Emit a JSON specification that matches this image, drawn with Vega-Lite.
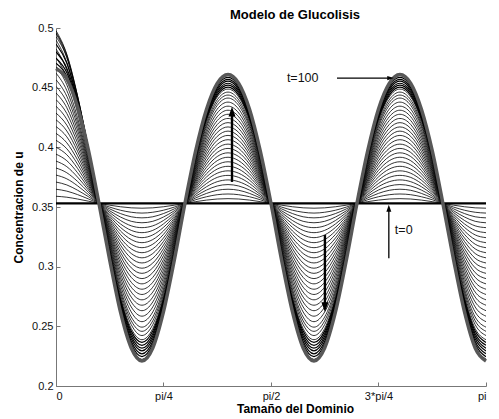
{
  "$schema": "https://vega.github.io/schema/vega-lite/v6.json",
  "autosize": "none",
  "width": 430,
  "height": 358,
  "padding": {"left": 56, "top": 28, "right": 13, "bottom": 33},
  "background": "white",
  "title": {"text": "Modelo de Glucolisis", "fontSize": 13, "fontWeight": "bold", "color": "#000", "dx": 24, "offset": 0},
  "config": {
    "font": "Liberation Sans",
    "view": {"stroke": null},
    "axis": {"grid": false, "labelFontSize": 11, "labelColor": "#111", "titleFontSize": 12, "titleFontWeight": "bold", "titleColor": "#000", "domainColor": "#777", "tickColor": "#777", "tickSize": -4}
  },
  "datasets": {
    "curvas": [
      {"k":0,"x":0,"u":0.353},{"k":0,"x":3.142,"u":0.353},
      {"k":1,"x":0,"u":0.359},{"k":1,"x":0.079,"u":0.3582},{"k":1,"x":0.157,"u":0.3567},{"k":1,"x":0.236,"u":0.3549},{"k":1,"x":0.314,"u":0.353},{"k":1,"x":0.393,"u":0.3515},{"k":1,"x":0.471,"u":0.3502},{"k":1,"x":0.55,"u":0.3493},{"k":1,"x":0.628,"u":0.349},{"k":1,"x":0.707,"u":0.3493},{"k":1,"x":0.785,"u":0.3502},{"k":1,"x":0.864,"u":0.3515},{"k":1,"x":0.942,"u":0.353},{"k":1,"x":1.021,"u":0.3545},{"k":1,"x":1.1,"u":0.3558},{"k":1,"x":1.178,"u":0.3567},{"k":1,"x":1.257,"u":0.357},{"k":1,"x":1.335,"u":0.3567},{"k":1,"x":1.414,"u":0.3558},{"k":1,"x":1.492,"u":0.3545},{"k":1,"x":1.571,"u":0.353},{"k":1,"x":1.649,"u":0.3515},{"k":1,"x":1.728,"u":0.3502},{"k":1,"x":1.806,"u":0.3493},{"k":1,"x":1.885,"u":0.349},{"k":1,"x":1.963,"u":0.3493},{"k":1,"x":2.042,"u":0.3502},{"k":1,"x":2.121,"u":0.3515},{"k":1,"x":2.199,"u":0.353},{"k":1,"x":2.278,"u":0.3545},{"k":1,"x":2.356,"u":0.3558},{"k":1,"x":2.435,"u":0.3567},{"k":1,"x":2.513,"u":0.357},{"k":1,"x":2.592,"u":0.3567},{"k":1,"x":2.67,"u":0.3558},{"k":1,"x":2.749,"u":0.3545},{"k":1,"x":2.827,"u":0.353},{"k":1,"x":2.906,"u":0.3515},{"k":1,"x":2.985,"u":0.3502},{"k":1,"x":3.063,"u":0.3493},{"k":1,"x":3.142,"u":0.349},
      {"k":2,"x":0,"u":0.3649},{"k":2,"x":0.079,"u":0.3633},{"k":2,"x":0.157,"u":0.3604},{"k":2,"x":0.236,"u":0.3568},{"k":2,"x":0.314,"u":0.353},{"k":2,"x":0.393,"u":0.3499},{"k":2,"x":0.471,"u":0.3473},{"k":2,"x":0.55,"u":0.3456},{"k":2,"x":0.628,"u":0.3449},{"k":2,"x":0.707,"u":0.3456},{"k":2,"x":0.785,"u":0.3473},{"k":2,"x":0.864,"u":0.3499},{"k":2,"x":0.942,"u":0.353},{"k":2,"x":1.021,"u":0.3561},{"k":2,"x":1.1,"u":0.3586},{"k":2,"x":1.178,"u":0.3603},{"k":2,"x":1.257,"u":0.3609},{"k":2,"x":1.335,"u":0.3603},{"k":2,"x":1.414,"u":0.3586},{"k":2,"x":1.492,"u":0.3561},{"k":2,"x":1.571,"u":0.353},{"k":2,"x":1.649,"u":0.3499},{"k":2,"x":1.728,"u":0.3473},{"k":2,"x":1.806,"u":0.3456},{"k":2,"x":1.885,"u":0.3449},{"k":2,"x":1.963,"u":0.3456},{"k":2,"x":2.042,"u":0.3473},{"k":2,"x":2.121,"u":0.3499},{"k":2,"x":2.199,"u":0.353},{"k":2,"x":2.278,"u":0.3561},{"k":2,"x":2.356,"u":0.3586},{"k":2,"x":2.435,"u":0.3603},{"k":2,"x":2.513,"u":0.3609},{"k":2,"x":2.592,"u":0.3603},{"k":2,"x":2.67,"u":0.3586},{"k":2,"x":2.749,"u":0.3561},{"k":2,"x":2.827,"u":0.353},{"k":2,"x":2.906,"u":0.3499},{"k":2,"x":2.985,"u":0.3473},{"k":2,"x":3.063,"u":0.3456},{"k":2,"x":3.142,"u":0.3449},
      {"k":3,"x":0,"u":0.3709},{"k":3,"x":0.079,"u":0.3685},{"k":3,"x":0.157,"u":0.3641},{"k":3,"x":0.236,"u":0.3587},{"k":3,"x":0.314,"u":0.353},{"k":3,"x":0.393,"u":0.3484},{"k":3,"x":0.471,"u":0.3445},{"k":3,"x":0.55,"u":0.3418},{"k":3,"x":0.628,"u":0.3409},{"k":3,"x":0.707,"u":0.3418},{"k":3,"x":0.785,"u":0.3445},{"k":3,"x":0.864,"u":0.3484},{"k":3,"x":0.942,"u":0.353},{"k":3,"x":1.021,"u":0.3576},{"k":3,"x":1.1,"u":0.3614},{"k":3,"x":1.178,"u":0.364},{"k":3,"x":1.257,"u":0.3649},{"k":3,"x":1.335,"u":0.364},{"k":3,"x":1.414,"u":0.3614},{"k":3,"x":1.492,"u":0.3576},{"k":3,"x":1.571,"u":0.353},{"k":3,"x":1.649,"u":0.3484},{"k":3,"x":1.728,"u":0.3445},{"k":3,"x":1.806,"u":0.3418},{"k":3,"x":1.885,"u":0.3409},{"k":3,"x":1.963,"u":0.3418},{"k":3,"x":2.042,"u":0.3445},{"k":3,"x":2.121,"u":0.3484},{"k":3,"x":2.199,"u":0.353},{"k":3,"x":2.278,"u":0.3576},{"k":3,"x":2.356,"u":0.3614},{"k":3,"x":2.435,"u":0.364},{"k":3,"x":2.513,"u":0.3649},{"k":3,"x":2.592,"u":0.364},{"k":3,"x":2.67,"u":0.3614},{"k":3,"x":2.749,"u":0.3576},{"k":3,"x":2.827,"u":0.353},{"k":3,"x":2.906,"u":0.3484},{"k":3,"x":2.985,"u":0.3445},{"k":3,"x":3.063,"u":0.3418},{"k":3,"x":3.142,"u":0.3409},
      {"k":4,"x":0,"u":0.3768},{"k":4,"x":0.079,"u":0.3736},{"k":4,"x":0.157,"u":0.3678},{"k":4,"x":0.236,"u":0.3605},{"k":4,"x":0.314,"u":0.353},{"k":4,"x":0.393,"u":0.3468},{"k":4,"x":0.471,"u":0.3416},{"k":4,"x":0.55,"u":0.338},{"k":4,"x":0.628,"u":0.3368},{"k":4,"x":0.707,"u":0.338},{"k":4,"x":0.785,"u":0.3416},{"k":4,"x":0.864,"u":0.3468},{"k":4,"x":0.942,"u":0.353},{"k":4,"x":1.021,"u":0.3591},{"k":4,"x":1.1,"u":0.3642},{"k":4,"x":1.178,"u":0.3676},{"k":4,"x":1.257,"u":0.3688},{"k":4,"x":1.335,"u":0.3676},{"k":4,"x":1.414,"u":0.3642},{"k":4,"x":1.492,"u":0.3591},{"k":4,"x":1.571,"u":0.353},{"k":4,"x":1.649,"u":0.3468},{"k":4,"x":1.728,"u":0.3416},{"k":4,"x":1.806,"u":0.338},{"k":4,"x":1.885,"u":0.3368},{"k":4,"x":1.963,"u":0.338},{"k":4,"x":2.042,"u":0.3416},{"k":4,"x":2.121,"u":0.3468},{"k":4,"x":2.199,"u":0.353},{"k":4,"x":2.278,"u":0.3591},{"k":4,"x":2.356,"u":0.3642},{"k":4,"x":2.435,"u":0.3676},{"k":4,"x":2.513,"u":0.3688},{"k":4,"x":2.592,"u":0.3676},{"k":4,"x":2.67,"u":0.3642},{"k":4,"x":2.749,"u":0.3591},{"k":4,"x":2.827,"u":0.353},{"k":4,"x":2.906,"u":0.3468},{"k":4,"x":2.985,"u":0.3416},{"k":4,"x":3.063,"u":0.338},{"k":4,"x":3.142,"u":0.3368},
      {"k":5,"x":0,"u":0.3827},{"k":5,"x":0.079,"u":0.3787},{"k":5,"x":0.157,"u":0.3715},{"k":5,"x":0.236,"u":0.3624},{"k":5,"x":0.314,"u":0.353},{"k":5,"x":0.393,"u":0.3453},{"k":5,"x":0.471,"u":0.3387},{"k":5,"x":0.55,"u":0.3342},{"k":5,"x":0.628,"u":0.3327},{"k":5,"x":0.707,"u":0.3342},{"k":5,"x":0.785,"u":0.3387},{"k":5,"x":0.864,"u":0.3453},{"k":5,"x":0.942,"u":0.353},{"k":5,"x":1.021,"u":0.3606},{"k":5,"x":1.1,"u":0.367},{"k":5,"x":1.178,"u":0.3712},{"k":5,"x":1.257,"u":0.3727},{"k":5,"x":1.335,"u":0.3712},{"k":5,"x":1.414,"u":0.367},{"k":5,"x":1.492,"u":0.3606},{"k":5,"x":1.571,"u":0.353},{"k":5,"x":1.649,"u":0.3453},{"k":5,"x":1.728,"u":0.3387},{"k":5,"x":1.806,"u":0.3342},{"k":5,"x":1.885,"u":0.3327},{"k":5,"x":1.963,"u":0.3342},{"k":5,"x":2.042,"u":0.3387},{"k":5,"x":2.121,"u":0.3453},{"k":5,"x":2.199,"u":0.353},{"k":5,"x":2.278,"u":0.3606},{"k":5,"x":2.356,"u":0.367},{"k":5,"x":2.435,"u":0.3712},{"k":5,"x":2.513,"u":0.3727},{"k":5,"x":2.592,"u":0.3712},{"k":5,"x":2.67,"u":0.367},{"k":5,"x":2.749,"u":0.3606},{"k":5,"x":2.827,"u":0.353},{"k":5,"x":2.906,"u":0.3453},{"k":5,"x":2.985,"u":0.3387},{"k":5,"x":3.063,"u":0.3342},{"k":5,"x":3.142,"u":0.3327},
      {"k":6,"x":0,"u":0.3885},{"k":6,"x":0.079,"u":0.3838},{"k":6,"x":0.157,"u":0.3751},{"k":6,"x":0.236,"u":0.3643},{"k":6,"x":0.314,"u":0.353},{"k":6,"x":0.393,"u":0.3437},{"k":6,"x":0.471,"u":0.3358},{"k":6,"x":0.55,"u":0.3304},{"k":6,"x":0.628,"u":0.3285},{"k":6,"x":0.707,"u":0.3304},{"k":6,"x":0.785,"u":0.3358},{"k":6,"x":0.864,"u":0.3437},{"k":6,"x":0.942,"u":0.353},{"k":6,"x":1.021,"u":0.3621},{"k":6,"x":1.1,"u":0.3697},{"k":6,"x":1.178,"u":0.3748},{"k":6,"x":1.257,"u":0.3765},{"k":6,"x":1.335,"u":0.3748},{"k":6,"x":1.414,"u":0.3697},{"k":6,"x":1.492,"u":0.3621},{"k":6,"x":1.571,"u":0.353},{"k":6,"x":1.649,"u":0.3437},{"k":6,"x":1.728,"u":0.3358},{"k":6,"x":1.806,"u":0.3304},{"k":6,"x":1.885,"u":0.3285},{"k":6,"x":1.963,"u":0.3304},{"k":6,"x":2.042,"u":0.3358},{"k":6,"x":2.121,"u":0.3437},{"k":6,"x":2.199,"u":0.353},{"k":6,"x":2.278,"u":0.3621},{"k":6,"x":2.356,"u":0.3697},{"k":6,"x":2.435,"u":0.3748},{"k":6,"x":2.513,"u":0.3765},{"k":6,"x":2.592,"u":0.3748},{"k":6,"x":2.67,"u":0.3697},{"k":6,"x":2.749,"u":0.3621},{"k":6,"x":2.827,"u":0.353},{"k":6,"x":2.906,"u":0.3437},{"k":6,"x":2.985,"u":0.3358},{"k":6,"x":3.063,"u":0.3304},{"k":6,"x":3.142,"u":0.3285},
      {"k":7,"x":0,"u":0.3943},{"k":7,"x":0.079,"u":0.3888},{"k":7,"x":0.157,"u":0.3788},{"k":7,"x":0.236,"u":0.3661},{"k":7,"x":0.314,"u":0.353},{"k":7,"x":0.393,"u":0.3422},{"k":7,"x":0.471,"u":0.3329},{"k":7,"x":0.55,"u":0.3266},{"k":7,"x":0.628,"u":0.3243},{"k":7,"x":0.707,"u":0.3266},{"k":7,"x":0.785,"u":0.3329},{"k":7,"x":0.864,"u":0.3422},{"k":7,"x":0.942,"u":0.353},{"k":7,"x":1.021,"u":0.3636},{"k":7,"x":1.1,"u":0.3725},{"k":7,"x":1.178,"u":0.3783},{"k":7,"x":1.257,"u":0.3803},{"k":7,"x":1.335,"u":0.3783},{"k":7,"x":1.414,"u":0.3725},{"k":7,"x":1.492,"u":0.3636},{"k":7,"x":1.571,"u":0.353},{"k":7,"x":1.649,"u":0.3422},{"k":7,"x":1.728,"u":0.3329},{"k":7,"x":1.806,"u":0.3266},{"k":7,"x":1.885,"u":0.3243},{"k":7,"x":1.963,"u":0.3266},{"k":7,"x":2.042,"u":0.3329},{"k":7,"x":2.121,"u":0.3422},{"k":7,"x":2.199,"u":0.353},{"k":7,"x":2.278,"u":0.3636},{"k":7,"x":2.356,"u":0.3725},{"k":7,"x":2.435,"u":0.3783},{"k":7,"x":2.513,"u":0.3803},{"k":7,"x":2.592,"u":0.3783},{"k":7,"x":2.67,"u":0.3725},{"k":7,"x":2.749,"u":0.3636},{"k":7,"x":2.827,"u":0.353},{"k":7,"x":2.906,"u":0.3422},{"k":7,"x":2.985,"u":0.3329},{"k":7,"x":3.063,"u":0.3266},{"k":7,"x":3.142,"u":0.3243},
      {"k":8,"x":0,"u":0.4001},{"k":8,"x":0.079,"u":0.3938},{"k":8,"x":0.157,"u":0.3824},{"k":8,"x":0.236,"u":0.368},{"k":8,"x":0.314,"u":0.353},{"k":8,"x":0.393,"u":0.3406},{"k":8,"x":0.471,"u":0.3299},{"k":8,"x":0.55,"u":0.3227},{"k":8,"x":0.628,"u":0.3201},{"k":8,"x":0.707,"u":0.3227},{"k":8,"x":0.785,"u":0.3299},{"k":8,"x":0.864,"u":0.3406},{"k":8,"x":0.942,"u":0.353},{"k":8,"x":1.021,"u":0.3651},{"k":8,"x":1.1,"u":0.3752},{"k":8,"x":1.178,"u":0.3818},{"k":8,"x":1.257,"u":0.3841},{"k":8,"x":1.335,"u":0.3818},{"k":8,"x":1.414,"u":0.3752},{"k":8,"x":1.492,"u":0.3651},{"k":8,"x":1.571,"u":0.353},{"k":8,"x":1.649,"u":0.3406},{"k":8,"x":1.728,"u":0.3299},{"k":8,"x":1.806,"u":0.3227},{"k":8,"x":1.885,"u":0.3201},{"k":8,"x":1.963,"u":0.3227},{"k":8,"x":2.042,"u":0.3299},{"k":8,"x":2.121,"u":0.3406},{"k":8,"x":2.199,"u":0.353},{"k":8,"x":2.278,"u":0.3651},{"k":8,"x":2.356,"u":0.3752},{"k":8,"x":2.435,"u":0.3818},{"k":8,"x":2.513,"u":0.3841},{"k":8,"x":2.592,"u":0.3818},{"k":8,"x":2.67,"u":0.3752},{"k":8,"x":2.749,"u":0.3651},{"k":8,"x":2.827,"u":0.353},{"k":8,"x":2.906,"u":0.3406},{"k":8,"x":2.985,"u":0.3299},{"k":8,"x":3.063,"u":0.3227},{"k":8,"x":3.142,"u":0.3201},
      {"k":9,"x":0,"u":0.4059},{"k":9,"x":0.079,"u":0.3988},{"k":9,"x":0.157,"u":0.386},{"k":9,"x":0.236,"u":0.3698},{"k":9,"x":0.314,"u":0.353},{"k":9,"x":0.393,"u":0.3391},{"k":9,"x":0.471,"u":0.327},{"k":9,"x":0.55,"u":0.3188},{"k":9,"x":0.628,"u":0.3159},{"k":9,"x":0.707,"u":0.3188},{"k":9,"x":0.785,"u":0.327},{"k":9,"x":0.864,"u":0.3391},{"k":9,"x":0.942,"u":0.353},{"k":9,"x":1.021,"u":0.3666},{"k":9,"x":1.1,"u":0.3779},{"k":9,"x":1.178,"u":0.3853},{"k":9,"x":1.257,"u":0.3879},{"k":9,"x":1.335,"u":0.3853},{"k":9,"x":1.414,"u":0.3779},{"k":9,"x":1.492,"u":0.3666},{"k":9,"x":1.571,"u":0.353},{"k":9,"x":1.649,"u":0.3391},{"k":9,"x":1.728,"u":0.327},{"k":9,"x":1.806,"u":0.3188},{"k":9,"x":1.885,"u":0.3159},{"k":9,"x":1.963,"u":0.3188},{"k":9,"x":2.042,"u":0.327},{"k":9,"x":2.121,"u":0.3391},{"k":9,"x":2.199,"u":0.353},{"k":9,"x":2.278,"u":0.3666},{"k":9,"x":2.356,"u":0.3779},{"k":9,"x":2.435,"u":0.3853},{"k":9,"x":2.513,"u":0.3879},{"k":9,"x":2.592,"u":0.3853},{"k":9,"x":2.67,"u":0.3779},{"k":9,"x":2.749,"u":0.3666},{"k":9,"x":2.827,"u":0.353},{"k":9,"x":2.906,"u":0.3391},{"k":9,"x":2.985,"u":0.327},{"k":9,"x":3.063,"u":0.3188},{"k":9,"x":3.142,"u":0.3159},
      {"k":10,"x":0,"u":0.4117},{"k":10,"x":0.079,"u":0.4038},{"k":10,"x":0.157,"u":0.3896},{"k":10,"x":0.236,"u":0.3717},{"k":10,"x":0.314,"u":0.353},{"k":10,"x":0.393,"u":0.3375},{"k":10,"x":0.471,"u":0.324},{"k":10,"x":0.55,"u":0.3149},{"k":10,"x":0.628,"u":0.3117},{"k":10,"x":0.707,"u":0.3149},{"k":10,"x":0.785,"u":0.324},{"k":10,"x":0.864,"u":0.3375},{"k":10,"x":0.942,"u":0.353},{"k":10,"x":1.021,"u":0.3681},{"k":10,"x":1.1,"u":0.3806},{"k":10,"x":1.178,"u":0.3888},{"k":10,"x":1.257,"u":0.3917},{"k":10,"x":1.335,"u":0.3888},{"k":10,"x":1.414,"u":0.3806},{"k":10,"x":1.492,"u":0.3681},{"k":10,"x":1.571,"u":0.353},{"k":10,"x":1.649,"u":0.3375},{"k":10,"x":1.728,"u":0.324},{"k":10,"x":1.806,"u":0.3149},{"k":10,"x":1.885,"u":0.3117},{"k":10,"x":1.963,"u":0.3149},{"k":10,"x":2.042,"u":0.324},{"k":10,"x":2.121,"u":0.3375},{"k":10,"x":2.199,"u":0.353},{"k":10,"x":2.278,"u":0.3681},{"k":10,"x":2.356,"u":0.3806},{"k":10,"x":2.435,"u":0.3888},{"k":10,"x":2.513,"u":0.3917},{"k":10,"x":2.592,"u":0.3888},{"k":10,"x":2.67,"u":0.3806},{"k":10,"x":2.749,"u":0.3681},{"k":10,"x":2.827,"u":0.353},{"k":10,"x":2.906,"u":0.3375},{"k":10,"x":2.985,"u":0.324},{"k":10,"x":3.063,"u":0.3149},{"k":10,"x":3.142,"u":0.3117},
      {"k":11,"x":0,"u":0.4174},{"k":11,"x":0.079,"u":0.4088},{"k":11,"x":0.157,"u":0.3932},{"k":11,"x":0.236,"u":0.3736},{"k":11,"x":0.314,"u":0.353},{"k":11,"x":0.393,"u":0.3359},{"k":11,"x":0.471,"u":0.3211},{"k":11,"x":0.55,"u":0.311},{"k":11,"x":0.628,"u":0.3074},{"k":11,"x":0.707,"u":0.311},{"k":11,"x":0.785,"u":0.3211},{"k":11,"x":0.864,"u":0.3359},{"k":11,"x":0.942,"u":0.353},{"k":11,"x":1.021,"u":0.3696},{"k":11,"x":1.1,"u":0.3833},{"k":11,"x":1.178,"u":0.3923},{"k":11,"x":1.257,"u":0.3954},{"k":11,"x":1.335,"u":0.3923},{"k":11,"x":1.414,"u":0.3833},{"k":11,"x":1.492,"u":0.3696},{"k":11,"x":1.571,"u":0.353},{"k":11,"x":1.649,"u":0.3359},{"k":11,"x":1.728,"u":0.3211},{"k":11,"x":1.806,"u":0.311},{"k":11,"x":1.885,"u":0.3074},{"k":11,"x":1.963,"u":0.311},{"k":11,"x":2.042,"u":0.3211},{"k":11,"x":2.121,"u":0.3359},{"k":11,"x":2.199,"u":0.353},{"k":11,"x":2.278,"u":0.3696},{"k":11,"x":2.356,"u":0.3833},{"k":11,"x":2.435,"u":0.3923},{"k":11,"x":2.513,"u":0.3954},{"k":11,"x":2.592,"u":0.3923},{"k":11,"x":2.67,"u":0.3833},{"k":11,"x":2.749,"u":0.3696},{"k":11,"x":2.827,"u":0.353},{"k":11,"x":2.906,"u":0.3359},{"k":11,"x":2.985,"u":0.3211},{"k":11,"x":3.063,"u":0.311},{"k":11,"x":3.142,"u":0.3074},
      {"k":12,"x":0,"u":0.4231},{"k":12,"x":0.079,"u":0.4137},{"k":12,"x":0.157,"u":0.3968},{"k":12,"x":0.236,"u":0.3754},{"k":12,"x":0.314,"u":0.353},{"k":12,"x":0.393,"u":0.3343},{"k":12,"x":0.471,"u":0.3181},{"k":12,"x":0.55,"u":0.307},{"k":12,"x":0.628,"u":0.3031},{"k":12,"x":0.707,"u":0.307},{"k":12,"x":0.785,"u":0.3181},{"k":12,"x":0.864,"u":0.3343},{"k":12,"x":0.942,"u":0.353},{"k":12,"x":1.021,"u":0.3711},{"k":12,"x":1.1,"u":0.386},{"k":12,"x":1.178,"u":0.3957},{"k":12,"x":1.257,"u":0.3991},{"k":12,"x":1.335,"u":0.3957},{"k":12,"x":1.414,"u":0.386},{"k":12,"x":1.492,"u":0.3711},{"k":12,"x":1.571,"u":0.353},{"k":12,"x":1.649,"u":0.3343},{"k":12,"x":1.728,"u":0.3181},{"k":12,"x":1.806,"u":0.307},{"k":12,"x":1.885,"u":0.3031},{"k":12,"x":1.963,"u":0.307},{"k":12,"x":2.042,"u":0.3181},{"k":12,"x":2.121,"u":0.3343},{"k":12,"x":2.199,"u":0.353},{"k":12,"x":2.278,"u":0.3711},{"k":12,"x":2.356,"u":0.386},{"k":12,"x":2.435,"u":0.3957},{"k":12,"x":2.513,"u":0.3991},{"k":12,"x":2.592,"u":0.3957},{"k":12,"x":2.67,"u":0.386},{"k":12,"x":2.749,"u":0.3711},{"k":12,"x":2.827,"u":0.353},{"k":12,"x":2.906,"u":0.3343},{"k":12,"x":2.985,"u":0.3181},{"k":12,"x":3.063,"u":0.307},{"k":12,"x":3.142,"u":0.3031},
      {"k":13,"x":0,"u":0.4287},{"k":13,"x":0.079,"u":0.4186},{"k":13,"x":0.157,"u":0.4003},{"k":13,"x":0.236,"u":0.3773},{"k":13,"x":0.314,"u":0.353},{"k":13,"x":0.393,"u":0.3328},{"k":13,"x":0.471,"u":0.3151},{"k":13,"x":0.55,"u":0.303},{"k":13,"x":0.628,"u":0.2987},{"k":13,"x":0.707,"u":0.303},{"k":13,"x":0.785,"u":0.3151},{"k":13,"x":0.864,"u":0.3328},{"k":13,"x":0.942,"u":0.353},{"k":13,"x":1.021,"u":0.3726},{"k":13,"x":1.1,"u":0.3886},{"k":13,"x":1.178,"u":0.3991},{"k":13,"x":1.257,"u":0.4027},{"k":13,"x":1.335,"u":0.3991},{"k":13,"x":1.414,"u":0.3886},{"k":13,"x":1.492,"u":0.3726},{"k":13,"x":1.571,"u":0.353},{"k":13,"x":1.649,"u":0.3328},{"k":13,"x":1.728,"u":0.3151},{"k":13,"x":1.806,"u":0.303},{"k":13,"x":1.885,"u":0.2987},{"k":13,"x":1.963,"u":0.303},{"k":13,"x":2.042,"u":0.3151},{"k":13,"x":2.121,"u":0.3328},{"k":13,"x":2.199,"u":0.353},{"k":13,"x":2.278,"u":0.3726},{"k":13,"x":2.356,"u":0.3886},{"k":13,"x":2.435,"u":0.3991},{"k":13,"x":2.513,"u":0.4027},{"k":13,"x":2.592,"u":0.3991},{"k":13,"x":2.67,"u":0.3886},{"k":13,"x":2.749,"u":0.3726},{"k":13,"x":2.827,"u":0.353},{"k":13,"x":2.906,"u":0.3328},{"k":13,"x":2.985,"u":0.3151},{"k":13,"x":3.063,"u":0.303},{"k":13,"x":3.142,"u":0.2987},
      {"k":14,"x":0,"u":0.4344},{"k":14,"x":0.079,"u":0.4235},{"k":14,"x":0.157,"u":0.4039},{"k":14,"x":0.236,"u":0.379},{"k":14,"x":0.314,"u":0.353},{"k":14,"x":0.393,"u":0.3312},{"k":14,"x":0.471,"u":0.3121},{"k":14,"x":0.55,"u":0.299},{"k":14,"x":0.628,"u":0.2944},{"k":14,"x":0.707,"u":0.299},{"k":14,"x":0.785,"u":0.3121},{"k":14,"x":0.864,"u":0.3312},{"k":14,"x":0.942,"u":0.353},{"k":14,"x":1.021,"u":0.374},{"k":14,"x":1.1,"u":0.3913},{"k":14,"x":1.178,"u":0.4025},{"k":14,"x":1.257,"u":0.4064},{"k":14,"x":1.335,"u":0.4025},{"k":14,"x":1.414,"u":0.3913},{"k":14,"x":1.492,"u":0.374},{"k":14,"x":1.571,"u":0.353},{"k":14,"x":1.649,"u":0.3312},{"k":14,"x":1.728,"u":0.3121},{"k":14,"x":1.806,"u":0.299},{"k":14,"x":1.885,"u":0.2944},{"k":14,"x":1.963,"u":0.299},{"k":14,"x":2.042,"u":0.3121},{"k":14,"x":2.121,"u":0.3312},{"k":14,"x":2.199,"u":0.353},{"k":14,"x":2.278,"u":0.374},{"k":14,"x":2.356,"u":0.3913},{"k":14,"x":2.435,"u":0.4025},{"k":14,"x":2.513,"u":0.4064},{"k":14,"x":2.592,"u":0.4025},{"k":14,"x":2.67,"u":0.3913},{"k":14,"x":2.749,"u":0.374},{"k":14,"x":2.827,"u":0.353},{"k":14,"x":2.906,"u":0.3312},{"k":14,"x":2.985,"u":0.3121},{"k":14,"x":3.063,"u":0.299},{"k":14,"x":3.142,"u":0.2944},
      {"k":15,"x":0,"u":0.44},{"k":15,"x":0.079,"u":0.4284},{"k":15,"x":0.157,"u":0.4074},{"k":15,"x":0.236,"u":0.3809},{"k":15,"x":0.314,"u":0.353},{"k":15,"x":0.393,"u":0.3296},{"k":15,"x":0.471,"u":0.3091},{"k":15,"x":0.55,"u":0.295},{"k":15,"x":0.628,"u":0.29},{"k":15,"x":0.707,"u":0.295},{"k":15,"x":0.785,"u":0.3091},{"k":15,"x":0.864,"u":0.3296},{"k":15,"x":0.942,"u":0.353},{"k":15,"x":1.021,"u":0.3755},{"k":15,"x":1.1,"u":0.3939},{"k":15,"x":1.178,"u":0.4059},{"k":15,"x":1.257,"u":0.41},{"k":15,"x":1.335,"u":0.4059},{"k":15,"x":1.414,"u":0.3939},{"k":15,"x":1.492,"u":0.3755},{"k":15,"x":1.571,"u":0.353},{"k":15,"x":1.649,"u":0.3296},{"k":15,"x":1.728,"u":0.3091},{"k":15,"x":1.806,"u":0.295},{"k":15,"x":1.885,"u":0.29},{"k":15,"x":1.963,"u":0.295},{"k":15,"x":2.042,"u":0.3091},{"k":15,"x":2.121,"u":0.3296},{"k":15,"x":2.199,"u":0.353},{"k":15,"x":2.278,"u":0.3755},{"k":15,"x":2.356,"u":0.3939},{"k":15,"x":2.435,"u":0.4059},{"k":15,"x":2.513,"u":0.41},{"k":15,"x":2.592,"u":0.4059},{"k":15,"x":2.67,"u":0.3939},{"k":15,"x":2.749,"u":0.3755},{"k":15,"x":2.827,"u":0.353},{"k":15,"x":2.906,"u":0.3296},{"k":15,"x":2.985,"u":0.3091},{"k":15,"x":3.063,"u":0.295},{"k":15,"x":3.142,"u":0.29},
      {"k":16,"x":0,"u":0.4456},{"k":16,"x":0.079,"u":0.4332},{"k":16,"x":0.157,"u":0.4109},{"k":16,"x":0.236,"u":0.3828},{"k":16,"x":0.314,"u":0.353},{"k":16,"x":0.393,"u":0.328},{"k":16,"x":0.471,"u":0.306},{"k":16,"x":0.55,"u":0.291},{"k":16,"x":0.628,"u":0.2856},{"k":16,"x":0.707,"u":0.291},{"k":16,"x":0.785,"u":0.306},{"k":16,"x":0.864,"u":0.328},{"k":16,"x":0.942,"u":0.353},{"k":16,"x":1.021,"u":0.377},{"k":16,"x":1.1,"u":0.3965},{"k":16,"x":1.178,"u":0.4092},{"k":16,"x":1.257,"u":0.4136},{"k":16,"x":1.335,"u":0.4092},{"k":16,"x":1.414,"u":0.3965},{"k":16,"x":1.492,"u":0.377},{"k":16,"x":1.571,"u":0.353},{"k":16,"x":1.649,"u":0.328},{"k":16,"x":1.728,"u":0.306},{"k":16,"x":1.806,"u":0.291},{"k":16,"x":1.885,"u":0.2856},{"k":16,"x":1.963,"u":0.291},{"k":16,"x":2.042,"u":0.306},{"k":16,"x":2.121,"u":0.328},{"k":16,"x":2.199,"u":0.353},{"k":16,"x":2.278,"u":0.377},{"k":16,"x":2.356,"u":0.3965},{"k":16,"x":2.435,"u":0.4092},{"k":16,"x":2.513,"u":0.4136},{"k":16,"x":2.592,"u":0.4092},{"k":16,"x":2.67,"u":0.3965},{"k":16,"x":2.749,"u":0.377},{"k":16,"x":2.827,"u":0.353},{"k":16,"x":2.906,"u":0.328},{"k":16,"x":2.985,"u":0.306},{"k":16,"x":3.063,"u":0.291},{"k":16,"x":3.142,"u":0.2856},
      {"k":17,"x":0,"u":0.4511},{"k":17,"x":0.079,"u":0.438},{"k":17,"x":0.157,"u":0.4145},{"k":17,"x":0.236,"u":0.3846},{"k":17,"x":0.314,"u":0.353},{"k":17,"x":0.393,"u":0.3264},{"k":17,"x":0.471,"u":0.303},{"k":17,"x":0.55,"u":0.2869},{"k":17,"x":0.628,"u":0.2811},{"k":17,"x":0.707,"u":0.2869},{"k":17,"x":0.785,"u":0.303},{"k":17,"x":0.864,"u":0.3264},{"k":17,"x":0.942,"u":0.353},{"k":17,"x":1.021,"u":0.3785},{"k":17,"x":1.1,"u":0.3992},{"k":17,"x":1.178,"u":0.4125},{"k":17,"x":1.257,"u":0.4171},{"k":17,"x":1.335,"u":0.4125},{"k":17,"x":1.414,"u":0.3992},{"k":17,"x":1.492,"u":0.3785},{"k":17,"x":1.571,"u":0.353},{"k":17,"x":1.649,"u":0.3264},{"k":17,"x":1.728,"u":0.303},{"k":17,"x":1.806,"u":0.2869},{"k":17,"x":1.885,"u":0.2811},{"k":17,"x":1.963,"u":0.2869},{"k":17,"x":2.042,"u":0.303},{"k":17,"x":2.121,"u":0.3264},{"k":17,"x":2.199,"u":0.353},{"k":17,"x":2.278,"u":0.3785},{"k":17,"x":2.356,"u":0.3992},{"k":17,"x":2.435,"u":0.4125},{"k":17,"x":2.513,"u":0.4171},{"k":17,"x":2.592,"u":0.4125},{"k":17,"x":2.67,"u":0.3992},{"k":17,"x":2.749,"u":0.3785},{"k":17,"x":2.827,"u":0.353},{"k":17,"x":2.906,"u":0.3264},{"k":17,"x":2.985,"u":0.303},{"k":17,"x":3.063,"u":0.2869},{"k":17,"x":3.142,"u":0.2811},
      {"k":18,"x":0,"u":0.4567},{"k":18,"x":0.079,"u":0.4428},{"k":18,"x":0.157,"u":0.418},{"k":18,"x":0.236,"u":0.3864},{"k":18,"x":0.314,"u":0.353},{"k":18,"x":0.393,"u":0.3248},{"k":18,"x":0.471,"u":0.2999},{"k":18,"x":0.55,"u":0.2828},{"k":18,"x":0.628,"u":0.2767},{"k":18,"x":0.707,"u":0.2828},{"k":18,"x":0.785,"u":0.2999},{"k":18,"x":0.864,"u":0.3248},{"k":18,"x":0.942,"u":0.353},{"k":18,"x":1.021,"u":0.3799},{"k":18,"x":1.1,"u":0.4018},{"k":18,"x":1.178,"u":0.4158},{"k":18,"x":1.257,"u":0.4207},{"k":18,"x":1.335,"u":0.4158},{"k":18,"x":1.414,"u":0.4018},{"k":18,"x":1.492,"u":0.3799},{"k":18,"x":1.571,"u":0.353},{"k":18,"x":1.649,"u":0.3248},{"k":18,"x":1.728,"u":0.2999},{"k":18,"x":1.806,"u":0.2828},{"k":18,"x":1.885,"u":0.2767},{"k":18,"x":1.963,"u":0.2828},{"k":18,"x":2.042,"u":0.2999},{"k":18,"x":2.121,"u":0.3248},{"k":18,"x":2.199,"u":0.353},{"k":18,"x":2.278,"u":0.3799},{"k":18,"x":2.356,"u":0.4018},{"k":18,"x":2.435,"u":0.4158},{"k":18,"x":2.513,"u":0.4207},{"k":18,"x":2.592,"u":0.4158},{"k":18,"x":2.67,"u":0.4018},{"k":18,"x":2.749,"u":0.3799},{"k":18,"x":2.827,"u":0.353},{"k":18,"x":2.906,"u":0.3248},{"k":18,"x":2.985,"u":0.2999},{"k":18,"x":3.063,"u":0.2828},{"k":18,"x":3.142,"u":0.2767},
      {"k":19,"x":0,"u":0.4622},{"k":19,"x":0.079,"u":0.4476},{"k":19,"x":0.157,"u":0.4214},{"k":19,"x":0.236,"u":0.3882},{"k":19,"x":0.314,"u":0.353},{"k":19,"x":0.393,"u":0.3232},{"k":19,"x":0.471,"u":0.2969},{"k":19,"x":0.55,"u":0.2787},{"k":19,"x":0.628,"u":0.2722},{"k":19,"x":0.707,"u":0.2787},{"k":19,"x":0.785,"u":0.2969},{"k":19,"x":0.864,"u":0.3232},{"k":19,"x":0.942,"u":0.353},{"k":19,"x":1.021,"u":0.3814},{"k":19,"x":1.1,"u":0.4043},{"k":19,"x":1.178,"u":0.4191},{"k":19,"x":1.257,"u":0.4242},{"k":19,"x":1.335,"u":0.4191},{"k":19,"x":1.414,"u":0.4043},{"k":19,"x":1.492,"u":0.3814},{"k":19,"x":1.571,"u":0.353},{"k":19,"x":1.649,"u":0.3232},{"k":19,"x":1.728,"u":0.2969},{"k":19,"x":1.806,"u":0.2787},{"k":19,"x":1.885,"u":0.2722},{"k":19,"x":1.963,"u":0.2787},{"k":19,"x":2.042,"u":0.2969},{"k":19,"x":2.121,"u":0.3232},{"k":19,"x":2.199,"u":0.353},{"k":19,"x":2.278,"u":0.3814},{"k":19,"x":2.356,"u":0.4043},{"k":19,"x":2.435,"u":0.4191},{"k":19,"x":2.513,"u":0.4242},{"k":19,"x":2.592,"u":0.4191},{"k":19,"x":2.67,"u":0.4043},{"k":19,"x":2.749,"u":0.3814},{"k":19,"x":2.827,"u":0.353},{"k":19,"x":2.906,"u":0.3232},{"k":19,"x":2.985,"u":0.2969},{"k":19,"x":3.063,"u":0.2787},{"k":19,"x":3.142,"u":0.2722},
      {"k":20,"x":0,"u":0.4677},{"k":20,"x":0.079,"u":0.4524},{"k":20,"x":0.157,"u":0.4249},{"k":20,"x":0.236,"u":0.39},{"k":20,"x":0.314,"u":0.353},{"k":20,"x":0.393,"u":0.3216},{"k":20,"x":0.471,"u":0.2938},{"k":20,"x":0.55,"u":0.2745},{"k":20,"x":0.628,"u":0.2677},{"k":20,"x":0.707,"u":0.2745},{"k":20,"x":0.785,"u":0.2938},{"k":20,"x":0.864,"u":0.3216},{"k":20,"x":0.942,"u":0.353},{"k":20,"x":1.021,"u":0.3828},{"k":20,"x":1.1,"u":0.4069},{"k":20,"x":1.178,"u":0.4224},{"k":20,"x":1.257,"u":0.4277},{"k":20,"x":1.335,"u":0.4224},{"k":20,"x":1.414,"u":0.4069},{"k":20,"x":1.492,"u":0.3828},{"k":20,"x":1.571,"u":0.353},{"k":20,"x":1.649,"u":0.3216},{"k":20,"x":1.728,"u":0.2938},{"k":20,"x":1.806,"u":0.2745},{"k":20,"x":1.885,"u":0.2677},{"k":20,"x":1.963,"u":0.2745},{"k":20,"x":2.042,"u":0.2938},{"k":20,"x":2.121,"u":0.3216},{"k":20,"x":2.199,"u":0.353},{"k":20,"x":2.278,"u":0.3828},{"k":20,"x":2.356,"u":0.4069},{"k":20,"x":2.435,"u":0.4224},{"k":20,"x":2.513,"u":0.4277},{"k":20,"x":2.592,"u":0.4224},{"k":20,"x":2.67,"u":0.4069},{"k":20,"x":2.749,"u":0.3828},{"k":20,"x":2.827,"u":0.353},{"k":20,"x":2.906,"u":0.3216},{"k":20,"x":2.985,"u":0.2938},{"k":20,"x":3.063,"u":0.2745},{"k":20,"x":3.142,"u":0.2677},
      {"k":21,"x":0,"u":0.4751},{"k":21,"x":0.079,"u":0.4586},{"k":21,"x":0.157,"u":0.4293},{"k":21,"x":0.236,"u":0.3922},{"k":21,"x":0.314,"u":0.353},{"k":21,"x":0.393,"u":0.32},{"k":21,"x":0.471,"u":0.2907},{"k":21,"x":0.55,"u":0.2704},{"k":21,"x":0.628,"u":0.2631},{"k":21,"x":0.707,"u":0.2704},{"k":21,"x":0.785,"u":0.2907},{"k":21,"x":0.864,"u":0.32},{"k":21,"x":0.942,"u":0.353},{"k":21,"x":1.021,"u":0.3843},{"k":21,"x":1.1,"u":0.4095},{"k":21,"x":1.178,"u":0.4256},{"k":21,"x":1.257,"u":0.4311},{"k":21,"x":1.335,"u":0.4256},{"k":21,"x":1.414,"u":0.4095},{"k":21,"x":1.492,"u":0.3843},{"k":21,"x":1.571,"u":0.353},{"k":21,"x":1.649,"u":0.32},{"k":21,"x":1.728,"u":0.2907},{"k":21,"x":1.806,"u":0.2704},{"k":21,"x":1.885,"u":0.2631},{"k":21,"x":1.963,"u":0.2704},{"k":21,"x":2.042,"u":0.2907},{"k":21,"x":2.121,"u":0.32},{"k":21,"x":2.199,"u":0.353},{"k":21,"x":2.278,"u":0.3843},{"k":21,"x":2.356,"u":0.4095},{"k":21,"x":2.435,"u":0.4256},{"k":21,"x":2.513,"u":0.4311},{"k":21,"x":2.592,"u":0.4256},{"k":21,"x":2.67,"u":0.4095},{"k":21,"x":2.749,"u":0.3843},{"k":21,"x":2.827,"u":0.353},{"k":21,"x":2.906,"u":0.32},{"k":21,"x":2.985,"u":0.2907},{"k":21,"x":3.063,"u":0.2704},{"k":21,"x":3.142,"u":0.2631},
      {"k":22,"x":0,"u":0.4825},{"k":22,"x":0.079,"u":0.4648},{"k":22,"x":0.157,"u":0.4336},{"k":22,"x":0.236,"u":0.3943},{"k":22,"x":0.314,"u":0.353},{"k":22,"x":0.393,"u":0.3184},{"k":22,"x":0.471,"u":0.2875},{"k":22,"x":0.55,"u":0.2662},{"k":22,"x":0.628,"u":0.2585},{"k":22,"x":0.707,"u":0.2662},{"k":22,"x":0.785,"u":0.2875},{"k":22,"x":0.864,"u":0.3184},{"k":22,"x":0.942,"u":0.353},{"k":22,"x":1.021,"u":0.3857},{"k":22,"x":1.1,"u":0.412},{"k":22,"x":1.178,"u":0.4288},{"k":22,"x":1.257,"u":0.4345},{"k":22,"x":1.335,"u":0.4288},{"k":22,"x":1.414,"u":0.412},{"k":22,"x":1.492,"u":0.3857},{"k":22,"x":1.571,"u":0.353},{"k":22,"x":1.649,"u":0.3184},{"k":22,"x":1.728,"u":0.2875},{"k":22,"x":1.806,"u":0.2662},{"k":22,"x":1.885,"u":0.2585},{"k":22,"x":1.963,"u":0.2662},{"k":22,"x":2.042,"u":0.2875},{"k":22,"x":2.121,"u":0.3184},{"k":22,"x":2.199,"u":0.353},{"k":22,"x":2.278,"u":0.3857},{"k":22,"x":2.356,"u":0.412},{"k":22,"x":2.435,"u":0.4288},{"k":22,"x":2.513,"u":0.4345},{"k":22,"x":2.592,"u":0.4288},{"k":22,"x":2.67,"u":0.412},{"k":22,"x":2.749,"u":0.3857},{"k":22,"x":2.827,"u":0.353},{"k":22,"x":2.906,"u":0.3184},{"k":22,"x":2.985,"u":0.2875},{"k":22,"x":3.063,"u":0.2662},{"k":22,"x":3.142,"u":0.2585},
      {"k":23,"x":0,"u":0.4899},{"k":23,"x":0.079,"u":0.471},{"k":23,"x":0.157,"u":0.4379},{"k":23,"x":0.236,"u":0.3966},{"k":23,"x":0.314,"u":0.353},{"k":23,"x":0.393,"u":0.3168},{"k":23,"x":0.471,"u":0.2844},{"k":23,"x":0.55,"u":0.262},{"k":23,"x":0.628,"u":0.2539},{"k":23,"x":0.707,"u":0.262},{"k":23,"x":0.785,"u":0.2844},{"k":23,"x":0.864,"u":0.3168},{"k":23,"x":0.942,"u":0.353},{"k":23,"x":1.021,"u":0.3872},{"k":23,"x":1.1,"u":0.4145},{"k":23,"x":1.178,"u":0.432},{"k":23,"x":1.257,"u":0.4379},{"k":23,"x":1.335,"u":0.432},{"k":23,"x":1.414,"u":0.4145},{"k":23,"x":1.492,"u":0.3872},{"k":23,"x":1.571,"u":0.353},{"k":23,"x":1.649,"u":0.3168},{"k":23,"x":1.728,"u":0.2844},{"k":23,"x":1.806,"u":0.262},{"k":23,"x":1.885,"u":0.2539},{"k":23,"x":1.963,"u":0.262},{"k":23,"x":2.042,"u":0.2844},{"k":23,"x":2.121,"u":0.3168},{"k":23,"x":2.199,"u":0.353},{"k":23,"x":2.278,"u":0.3872},{"k":23,"x":2.356,"u":0.4145},{"k":23,"x":2.435,"u":0.432},{"k":23,"x":2.513,"u":0.4379},{"k":23,"x":2.592,"u":0.432},{"k":23,"x":2.67,"u":0.4145},{"k":23,"x":2.749,"u":0.3872},{"k":23,"x":2.827,"u":0.353},{"k":23,"x":2.906,"u":0.3168},{"k":23,"x":2.985,"u":0.2844},{"k":23,"x":3.063,"u":0.262},{"k":23,"x":3.142,"u":0.2539},
      {"k":24,"x":0,"u":0.4953},{"k":24,"x":0.079,"u":0.4756},{"k":24,"x":0.157,"u":0.4413},{"k":24,"x":0.236,"u":0.3983},{"k":24,"x":0.314,"u":0.353},{"k":24,"x":0.393,"u":0.3151},{"k":24,"x":0.471,"u":0.2813},{"k":24,"x":0.55,"u":0.2578},{"k":24,"x":0.628,"u":0.2493},{"k":24,"x":0.707,"u":0.2578},{"k":24,"x":0.785,"u":0.2813},{"k":24,"x":0.864,"u":0.3151},{"k":24,"x":0.942,"u":0.353},{"k":24,"x":1.021,"u":0.3886},{"k":24,"x":1.1,"u":0.417},{"k":24,"x":1.178,"u":0.4351},{"k":24,"x":1.257,"u":0.4413},{"k":24,"x":1.335,"u":0.4351},{"k":24,"x":1.414,"u":0.417},{"k":24,"x":1.492,"u":0.3886},{"k":24,"x":1.571,"u":0.353},{"k":24,"x":1.649,"u":0.3151},{"k":24,"x":1.728,"u":0.2813},{"k":24,"x":1.806,"u":0.2578},{"k":24,"x":1.885,"u":0.2493},{"k":24,"x":1.963,"u":0.2578},{"k":24,"x":2.042,"u":0.2813},{"k":24,"x":2.121,"u":0.3151},{"k":24,"x":2.199,"u":0.353},{"k":24,"x":2.278,"u":0.3886},{"k":24,"x":2.356,"u":0.417},{"k":24,"x":2.435,"u":0.4351},{"k":24,"x":2.513,"u":0.4413},{"k":24,"x":2.592,"u":0.4351},{"k":24,"x":2.67,"u":0.417},{"k":24,"x":2.749,"u":0.3886},{"k":24,"x":2.827,"u":0.353},{"k":24,"x":2.906,"u":0.3151},{"k":24,"x":2.985,"u":0.2813},{"k":24,"x":3.063,"u":0.2578},{"k":24,"x":3.142,"u":0.2493},
      {"k":25,"x":0,"u":0.4978},{"k":25,"x":0.079,"u":0.478},{"k":25,"x":0.157,"u":0.4432},{"k":25,"x":0.236,"u":0.3994},{"k":25,"x":0.314,"u":0.353},{"k":25,"x":0.393,"u":0.3139},{"k":25,"x":0.471,"u":0.2789},{"k":25,"x":0.55,"u":0.2546},{"k":25,"x":0.628,"u":0.2458},{"k":25,"x":0.707,"u":0.2546},{"k":25,"x":0.785,"u":0.2789},{"k":25,"x":0.864,"u":0.3139},{"k":25,"x":0.942,"u":0.353},{"k":25,"x":1.021,"u":0.3897},{"k":25,"x":1.1,"u":0.4189},{"k":25,"x":1.178,"u":0.4375},{"k":25,"x":1.257,"u":0.4438},{"k":25,"x":1.335,"u":0.4375},{"k":25,"x":1.414,"u":0.4189},{"k":25,"x":1.492,"u":0.3897},{"k":25,"x":1.571,"u":0.353},{"k":25,"x":1.649,"u":0.3139},{"k":25,"x":1.728,"u":0.2789},{"k":25,"x":1.806,"u":0.2546},{"k":25,"x":1.885,"u":0.2458},{"k":25,"x":1.963,"u":0.2546},{"k":25,"x":2.042,"u":0.2789},{"k":25,"x":2.121,"u":0.3139},{"k":25,"x":2.199,"u":0.353},{"k":25,"x":2.278,"u":0.3897},{"k":25,"x":2.356,"u":0.4189},{"k":25,"x":2.435,"u":0.4375},{"k":25,"x":2.513,"u":0.4438},{"k":25,"x":2.592,"u":0.4375},{"k":25,"x":2.67,"u":0.4189},{"k":25,"x":2.749,"u":0.3897},{"k":25,"x":2.827,"u":0.353},{"k":25,"x":2.906,"u":0.3139},{"k":25,"x":2.985,"u":0.2789},{"k":25,"x":3.063,"u":0.2546},{"k":25,"x":3.142,"u":0.2458},
      {"k":26,"x":0,"u":0.4963},{"k":26,"x":0.079,"u":0.4773},{"k":26,"x":0.157,"u":0.4433},{"k":26,"x":0.236,"u":0.3998},{"k":26,"x":0.314,"u":0.353},{"k":26,"x":0.393,"u":0.3127},{"k":26,"x":0.471,"u":0.2765},{"k":26,"x":0.55,"u":0.2514},{"k":26,"x":0.628,"u":0.2423},{"k":26,"x":0.707,"u":0.2514},{"k":26,"x":0.785,"u":0.2765},{"k":26,"x":0.864,"u":0.3127},{"k":26,"x":0.942,"u":0.353},{"k":26,"x":1.021,"u":0.3908},{"k":26,"x":1.1,"u":0.4208},{"k":26,"x":1.178,"u":0.4398},{"k":26,"x":1.257,"u":0.4463},{"k":26,"x":1.335,"u":0.4398},{"k":26,"x":1.414,"u":0.4208},{"k":26,"x":1.492,"u":0.3908},{"k":26,"x":1.571,"u":0.353},{"k":26,"x":1.649,"u":0.3127},{"k":26,"x":1.728,"u":0.2765},{"k":26,"x":1.806,"u":0.2514},{"k":26,"x":1.885,"u":0.2423},{"k":26,"x":1.963,"u":0.2514},{"k":26,"x":2.042,"u":0.2765},{"k":26,"x":2.121,"u":0.3127},{"k":26,"x":2.199,"u":0.353},{"k":26,"x":2.278,"u":0.3908},{"k":26,"x":2.356,"u":0.4208},{"k":26,"x":2.435,"u":0.4398},{"k":26,"x":2.513,"u":0.4463},{"k":26,"x":2.592,"u":0.4398},{"k":26,"x":2.67,"u":0.4208},{"k":26,"x":2.749,"u":0.3908},{"k":26,"x":2.827,"u":0.353},{"k":26,"x":2.906,"u":0.3127},{"k":26,"x":2.985,"u":0.2765},{"k":26,"x":3.063,"u":0.2514},{"k":26,"x":3.142,"u":0.2423},
      {"k":27,"x":0,"u":0.4928},{"k":27,"x":0.079,"u":0.4752},{"k":27,"x":0.157,"u":0.4425},{"k":27,"x":0.236,"u":0.3997},{"k":27,"x":0.314,"u":0.353},{"k":27,"x":0.393,"u":0.3115},{"k":27,"x":0.471,"u":0.2742},{"k":27,"x":0.55,"u":0.2481},{"k":27,"x":0.628,"u":0.2388},{"k":27,"x":0.707,"u":0.2481},{"k":27,"x":0.785,"u":0.2742},{"k":27,"x":0.864,"u":0.3115},{"k":27,"x":0.942,"u":0.353},{"k":27,"x":1.021,"u":0.3918},{"k":27,"x":1.1,"u":0.4227},{"k":27,"x":1.178,"u":0.4422},{"k":27,"x":1.257,"u":0.4488},{"k":27,"x":1.335,"u":0.4422},{"k":27,"x":1.414,"u":0.4227},{"k":27,"x":1.492,"u":0.3918},{"k":27,"x":1.571,"u":0.353},{"k":27,"x":1.649,"u":0.3115},{"k":27,"x":1.728,"u":0.2742},{"k":27,"x":1.806,"u":0.2481},{"k":27,"x":1.885,"u":0.2388},{"k":27,"x":1.963,"u":0.2481},{"k":27,"x":2.042,"u":0.2742},{"k":27,"x":2.121,"u":0.3115},{"k":27,"x":2.199,"u":0.353},{"k":27,"x":2.278,"u":0.3918},{"k":27,"x":2.356,"u":0.4227},{"k":27,"x":2.435,"u":0.4422},{"k":27,"x":2.513,"u":0.4488},{"k":27,"x":2.592,"u":0.4422},{"k":27,"x":2.67,"u":0.4227},{"k":27,"x":2.749,"u":0.3918},{"k":27,"x":2.827,"u":0.353},{"k":27,"x":2.906,"u":0.3115},{"k":27,"x":2.985,"u":0.2742},{"k":27,"x":3.063,"u":0.2481},{"k":27,"x":3.142,"u":0.2388},
      {"k":28,"x":0,"u":0.4865},{"k":28,"x":0.079,"u":0.4707},{"k":28,"x":0.157,"u":0.4401},{"k":28,"x":0.236,"u":0.3991},{"k":28,"x":0.314,"u":0.353},{"k":28,"x":0.393,"u":0.3107},{"k":28,"x":0.471,"u":0.2726},{"k":28,"x":0.55,"u":0.246},{"k":28,"x":0.628,"u":0.2365},{"k":28,"x":0.707,"u":0.246},{"k":28,"x":0.785,"u":0.2726},{"k":28,"x":0.864,"u":0.3107},{"k":28,"x":0.942,"u":0.353},{"k":28,"x":1.021,"u":0.3926},{"k":28,"x":1.1,"u":0.4239},{"k":28,"x":1.178,"u":0.4437},{"k":28,"x":1.257,"u":0.4505},{"k":28,"x":1.335,"u":0.4437},{"k":28,"x":1.414,"u":0.4239},{"k":28,"x":1.492,"u":0.3926},{"k":28,"x":1.571,"u":0.353},{"k":28,"x":1.649,"u":0.3107},{"k":28,"x":1.728,"u":0.2726},{"k":28,"x":1.806,"u":0.246},{"k":28,"x":1.885,"u":0.2365},{"k":28,"x":1.963,"u":0.246},{"k":28,"x":2.042,"u":0.2726},{"k":28,"x":2.121,"u":0.3107},{"k":28,"x":2.199,"u":0.353},{"k":28,"x":2.278,"u":0.3926},{"k":28,"x":2.356,"u":0.4239},{"k":28,"x":2.435,"u":0.4437},{"k":28,"x":2.513,"u":0.4505},{"k":28,"x":2.592,"u":0.4437},{"k":28,"x":2.67,"u":0.4239},{"k":28,"x":2.749,"u":0.3926},{"k":28,"x":2.827,"u":0.353},{"k":28,"x":2.906,"u":0.3107},{"k":28,"x":2.985,"u":0.2726},{"k":28,"x":3.063,"u":0.246},{"k":28,"x":3.142,"u":0.2365},
      {"k":29,"x":0,"u":0.4801},{"k":29,"x":0.079,"u":0.4663},{"k":29,"x":0.157,"u":0.4377},{"k":29,"x":0.236,"u":0.3983},{"k":29,"x":0.314,"u":0.353},{"k":29,"x":0.393,"u":0.3098},{"k":29,"x":0.471,"u":0.271},{"k":29,"x":0.55,"u":0.2438},{"k":29,"x":0.628,"u":0.2341},{"k":29,"x":0.707,"u":0.2438},{"k":29,"x":0.785,"u":0.271},{"k":29,"x":0.864,"u":0.3098},{"k":29,"x":0.942,"u":0.353},{"k":29,"x":1.021,"u":0.3933},{"k":29,"x":1.1,"u":0.4251},{"k":29,"x":1.178,"u":0.4453},{"k":29,"x":1.257,"u":0.4521},{"k":29,"x":1.335,"u":0.4453},{"k":29,"x":1.414,"u":0.4251},{"k":29,"x":1.492,"u":0.3933},{"k":29,"x":1.571,"u":0.353},{"k":29,"x":1.649,"u":0.3098},{"k":29,"x":1.728,"u":0.271},{"k":29,"x":1.806,"u":0.2438},{"k":29,"x":1.885,"u":0.2341},{"k":29,"x":1.963,"u":0.2438},{"k":29,"x":2.042,"u":0.271},{"k":29,"x":2.121,"u":0.3098},{"k":29,"x":2.199,"u":0.353},{"k":29,"x":2.278,"u":0.3933},{"k":29,"x":2.356,"u":0.4251},{"k":29,"x":2.435,"u":0.4453},{"k":29,"x":2.513,"u":0.4521},{"k":29,"x":2.592,"u":0.4453},{"k":29,"x":2.67,"u":0.4251},{"k":29,"x":2.749,"u":0.3933},{"k":29,"x":2.827,"u":0.353},{"k":29,"x":2.906,"u":0.3098},{"k":29,"x":2.985,"u":0.271},{"k":29,"x":3.063,"u":0.2438},{"k":29,"x":3.142,"u":0.2341},
      {"k":30,"x":0,"u":0.4747},{"k":30,"x":0.079,"u":0.4626},{"k":30,"x":0.157,"u":0.4359},{"k":30,"x":0.236,"u":0.3978},{"k":30,"x":0.314,"u":0.353},{"k":30,"x":0.393,"u":0.309},{"k":30,"x":0.471,"u":0.2694},{"k":30,"x":0.55,"u":0.2417},{"k":30,"x":0.628,"u":0.2317},{"k":30,"x":0.707,"u":0.2417},{"k":30,"x":0.785,"u":0.2694},{"k":30,"x":0.864,"u":0.309},{"k":30,"x":0.942,"u":0.353},{"k":30,"x":1.021,"u":0.394},{"k":30,"x":1.1,"u":0.4264},{"k":30,"x":1.178,"u":0.4468},{"k":30,"x":1.257,"u":0.4537},{"k":30,"x":1.335,"u":0.4468},{"k":30,"x":1.414,"u":0.4264},{"k":30,"x":1.492,"u":0.394},{"k":30,"x":1.571,"u":0.353},{"k":30,"x":1.649,"u":0.309},{"k":30,"x":1.728,"u":0.2694},{"k":30,"x":1.806,"u":0.2417},{"k":30,"x":1.885,"u":0.2317},{"k":30,"x":1.963,"u":0.2417},{"k":30,"x":2.042,"u":0.2694},{"k":30,"x":2.121,"u":0.309},{"k":30,"x":2.199,"u":0.353},{"k":30,"x":2.278,"u":0.394},{"k":30,"x":2.356,"u":0.4264},{"k":30,"x":2.435,"u":0.4468},{"k":30,"x":2.513,"u":0.4537},{"k":30,"x":2.592,"u":0.4468},{"k":30,"x":2.67,"u":0.4264},{"k":30,"x":2.749,"u":0.394},{"k":30,"x":2.827,"u":0.353},{"k":30,"x":2.906,"u":0.309},{"k":30,"x":2.985,"u":0.2694},{"k":30,"x":3.063,"u":0.2417},{"k":30,"x":3.142,"u":0.2317},
      {"k":31,"x":0,"u":0.4704},{"k":31,"x":0.079,"u":0.4596},{"k":31,"x":0.157,"u":0.4344},{"k":31,"x":0.236,"u":0.3974},{"k":31,"x":0.314,"u":0.353},{"k":31,"x":0.393,"u":0.3082},{"k":31,"x":0.471,"u":0.2678},{"k":31,"x":0.55,"u":0.2395},{"k":31,"x":0.628,"u":0.2294},{"k":31,"x":0.707,"u":0.2395},{"k":31,"x":0.785,"u":0.2678},{"k":31,"x":0.864,"u":0.3082},{"k":31,"x":0.942,"u":0.353},{"k":31,"x":1.021,"u":0.3947},{"k":31,"x":1.1,"u":0.4276},{"k":31,"x":1.178,"u":0.4483},{"k":31,"x":1.257,"u":0.4554},{"k":31,"x":1.335,"u":0.4483},{"k":31,"x":1.414,"u":0.4276},{"k":31,"x":1.492,"u":0.3947},{"k":31,"x":1.571,"u":0.353},{"k":31,"x":1.649,"u":0.3082},{"k":31,"x":1.728,"u":0.2678},{"k":31,"x":1.806,"u":0.2395},{"k":31,"x":1.885,"u":0.2294},{"k":31,"x":1.963,"u":0.2395},{"k":31,"x":2.042,"u":0.2678},{"k":31,"x":2.121,"u":0.3082},{"k":31,"x":2.199,"u":0.353},{"k":31,"x":2.278,"u":0.3947},{"k":31,"x":2.356,"u":0.4276},{"k":31,"x":2.435,"u":0.4483},{"k":31,"x":2.513,"u":0.4554},{"k":31,"x":2.592,"u":0.4483},{"k":31,"x":2.67,"u":0.4276},{"k":31,"x":2.749,"u":0.3947},{"k":31,"x":2.827,"u":0.353},{"k":31,"x":2.906,"u":0.3082},{"k":31,"x":2.985,"u":0.2678},{"k":31,"x":3.063,"u":0.2395},{"k":31,"x":3.142,"u":0.2294},
      {"k":32,"x":0,"u":0.467},{"k":32,"x":0.079,"u":0.4573},{"k":32,"x":0.157,"u":0.4333},{"k":32,"x":0.236,"u":0.3972},{"k":32,"x":0.314,"u":0.353},{"k":32,"x":0.393,"u":0.3074},{"k":32,"x":0.471,"u":0.2662},{"k":32,"x":0.55,"u":0.2373},{"k":32,"x":0.628,"u":0.227},{"k":32,"x":0.707,"u":0.2373},{"k":32,"x":0.785,"u":0.2662},{"k":32,"x":0.864,"u":0.3074},{"k":32,"x":0.942,"u":0.353},{"k":32,"x":1.021,"u":0.3954},{"k":32,"x":1.1,"u":0.4288},{"k":32,"x":1.178,"u":0.4498},{"k":32,"x":1.257,"u":0.457},{"k":32,"x":1.335,"u":0.4498},{"k":32,"x":1.414,"u":0.4288},{"k":32,"x":1.492,"u":0.3954},{"k":32,"x":1.571,"u":0.353},{"k":32,"x":1.649,"u":0.3074},{"k":32,"x":1.728,"u":0.2662},{"k":32,"x":1.806,"u":0.2373},{"k":32,"x":1.885,"u":0.227},{"k":32,"x":1.963,"u":0.2373},{"k":32,"x":2.042,"u":0.2662},{"k":32,"x":2.121,"u":0.3074},{"k":32,"x":2.199,"u":0.353},{"k":32,"x":2.278,"u":0.3954},{"k":32,"x":2.356,"u":0.4288},{"k":32,"x":2.435,"u":0.4498},{"k":32,"x":2.513,"u":0.457},{"k":32,"x":2.592,"u":0.4498},{"k":32,"x":2.67,"u":0.4288},{"k":32,"x":2.749,"u":0.3954},{"k":32,"x":2.827,"u":0.353},{"k":32,"x":2.906,"u":0.3074},{"k":32,"x":2.985,"u":0.2662},{"k":32,"x":3.063,"u":0.2373},{"k":32,"x":3.142,"u":0.227},
      {"k":33,"x":0,"u":0.4656},{"k":33,"x":0.079,"u":0.4567},{"k":33,"x":0.157,"u":0.4332},{"k":33,"x":0.236,"u":0.3974},{"k":33,"x":0.314,"u":0.353},{"k":33,"x":0.393,"u":0.3066},{"k":33,"x":0.471,"u":0.2646},{"k":33,"x":0.55,"u":0.2352},{"k":33,"x":0.628,"u":0.2246},{"k":33,"x":0.707,"u":0.2352},{"k":33,"x":0.785,"u":0.2646},{"k":33,"x":0.864,"u":0.3066},{"k":33,"x":0.942,"u":0.353},{"k":33,"x":1.021,"u":0.3961},{"k":33,"x":1.1,"u":0.43},{"k":33,"x":1.178,"u":0.4514},{"k":33,"x":1.257,"u":0.4586},{"k":33,"x":1.335,"u":0.4514},{"k":33,"x":1.414,"u":0.43},{"k":33,"x":1.492,"u":0.3961},{"k":33,"x":1.571,"u":0.353},{"k":33,"x":1.649,"u":0.3066},{"k":33,"x":1.728,"u":0.2646},{"k":33,"x":1.806,"u":0.2352},{"k":33,"x":1.885,"u":0.2246},{"k":33,"x":1.963,"u":0.2352},{"k":33,"x":2.042,"u":0.2646},{"k":33,"x":2.121,"u":0.3066},{"k":33,"x":2.199,"u":0.353},{"k":33,"x":2.278,"u":0.3961},{"k":33,"x":2.356,"u":0.43},{"k":33,"x":2.435,"u":0.4514},{"k":33,"x":2.513,"u":0.4586},{"k":33,"x":2.592,"u":0.4514},{"k":33,"x":2.67,"u":0.43},{"k":33,"x":2.749,"u":0.3961},{"k":33,"x":2.827,"u":0.353},{"k":33,"x":2.906,"u":0.3066},{"k":33,"x":2.985,"u":0.2646},{"k":33,"x":3.063,"u":0.2352},{"k":33,"x":3.142,"u":0.2246},
      {"k":34,"x":0,"u":0.4652},{"k":34,"x":0.079,"u":0.4567},{"k":34,"x":0.157,"u":0.4335},{"k":34,"x":0.236,"u":0.3977},{"k":34,"x":0.314,"u":0.353},{"k":34,"x":0.393,"u":0.3057},{"k":34,"x":0.471,"u":0.263},{"k":34,"x":0.55,"u":0.233},{"k":34,"x":0.628,"u":0.2222},{"k":34,"x":0.707,"u":0.233},{"k":34,"x":0.785,"u":0.263},{"k":34,"x":0.864,"u":0.3057},{"k":34,"x":0.942,"u":0.353},{"k":34,"x":1.021,"u":0.3968},{"k":34,"x":1.1,"u":0.4312},{"k":34,"x":1.178,"u":0.4529},{"k":34,"x":1.257,"u":0.4602},{"k":34,"x":1.335,"u":0.4529},{"k":34,"x":1.414,"u":0.4312},{"k":34,"x":1.492,"u":0.3968},{"k":34,"x":1.571,"u":0.353},{"k":34,"x":1.649,"u":0.3057},{"k":34,"x":1.728,"u":0.263},{"k":34,"x":1.806,"u":0.233},{"k":34,"x":1.885,"u":0.2222},{"k":34,"x":1.963,"u":0.233},{"k":34,"x":2.042,"u":0.263},{"k":34,"x":2.121,"u":0.3057},{"k":34,"x":2.199,"u":0.353},{"k":34,"x":2.278,"u":0.3968},{"k":34,"x":2.356,"u":0.4312},{"k":34,"x":2.435,"u":0.4529},{"k":34,"x":2.513,"u":0.4602},{"k":34,"x":2.592,"u":0.4529},{"k":34,"x":2.67,"u":0.4312},{"k":34,"x":2.749,"u":0.3968},{"k":34,"x":2.827,"u":0.353},{"k":34,"x":2.906,"u":0.3057},{"k":34,"x":2.985,"u":0.263},{"k":34,"x":3.063,"u":0.233},{"k":34,"x":3.142,"u":0.2222},
      {"k":35,"x":0,"u":0.466},{"k":35,"x":0.079,"u":0.4574},{"k":35,"x":0.157,"u":0.4342},{"k":35,"x":0.236,"u":0.3981},{"k":35,"x":0.314,"u":0.353},{"k":35,"x":0.393,"u":0.3053},{"k":35,"x":0.471,"u":0.2621},{"k":35,"x":0.55,"u":0.2319},{"k":35,"x":0.628,"u":0.221},{"k":35,"x":0.707,"u":0.2319},{"k":35,"x":0.785,"u":0.2621},{"k":35,"x":0.864,"u":0.3053},{"k":35,"x":0.942,"u":0.353},{"k":35,"x":1.021,"u":0.3972},{"k":35,"x":1.1,"u":0.4319},{"k":35,"x":1.178,"u":0.4536},{"k":35,"x":1.257,"u":0.461},{"k":35,"x":1.335,"u":0.4536},{"k":35,"x":1.414,"u":0.4319},{"k":35,"x":1.492,"u":0.3972},{"k":35,"x":1.571,"u":0.353},{"k":35,"x":1.649,"u":0.3053},{"k":35,"x":1.728,"u":0.2621},{"k":35,"x":1.806,"u":0.2319},{"k":35,"x":1.885,"u":0.221},{"k":35,"x":1.963,"u":0.2319},{"k":35,"x":2.042,"u":0.2621},{"k":35,"x":2.121,"u":0.3053},{"k":35,"x":2.199,"u":0.353},{"k":35,"x":2.278,"u":0.3972},{"k":35,"x":2.356,"u":0.4319},{"k":35,"x":2.435,"u":0.4536},{"k":35,"x":2.513,"u":0.461},{"k":35,"x":2.592,"u":0.4536},{"k":35,"x":2.67,"u":0.4319},{"k":35,"x":2.749,"u":0.3972},{"k":35,"x":2.827,"u":0.353},{"k":35,"x":2.906,"u":0.3053},{"k":35,"x":2.985,"u":0.2621},{"k":35,"x":3.063,"u":0.2319},{"k":35,"x":3.142,"u":0.221}
    ],
    "flechasGruesas": [
      {"x": 1.286, "y": 0.371, "y2": 0.428},
      {"x": 1.965, "y": 0.3265, "y2": 0.268}
    ],
    "puntaArriba": [{"x": 1.286, "y": 0.434}],
    "puntaAbajo": [{"x": 1.965, "y": 0.262}],
    "flechaT0": [{"x": 2.432, "y": 0.307, "y2": 0.347}],
    "puntaT0": [{"x": 2.432, "y": 0.3518}],
    "flechaT100": [{"x": 2.053, "x2": 2.44, "y": 0.458}],
    "puntaT100": [{"x": 2.469, "y": 0.458}],
    "etiquetas": [
      {"x": 1.687, "y": 0.458, "texto": "t=100"},
      {"x": 2.476, "y": 0.331, "texto": "t=0"}
    ]
  },
  "layer": [
    {
      "data": {"name": "curvas"},
      "transform": [{"filter": "datum.k > 0 && datum.k < 35"}],
      "mark": {"type": "line", "interpolate": "monotone", "color": "#000", "clip": true},
      "encoding": {
        "x": {"field": "x", "type": "quantitative", "scale": {"domain": [0, 3.142], "nice": false, "zero": false},
          "axis": {"title": "Tamaño del Dominio", "values": [0, 0.785, 1.571, 2.356, 3.142],
            "labelExpr": "datum.value < 0.1 ? '0' : datum.value < 1 ? 'pi/4' : datum.value < 2 ? 'pi/2' : datum.value < 3 ? '3*pi/4' : 'pi'",
            "labelPadding": 8, "titlePadding": 2, "titleX": 239}},
        "y": {"field": "u", "type": "quantitative", "scale": {"domain": [0.2, 0.5], "nice": false, "zero": false},
          "axis": {"title": "Concentracion de u", "values": [0.2, 0.25, 0.3, 0.35, 0.4, 0.45, 0.5], "format": ".2~f", "labelPadding": 7, "titlePadding": 6}},
        "detail": {"field": "k", "type": "nominal"},
        "strokeWidth": {"condition": {"test": "datum.k >= 28", "value": 1.2}, "value": 0.8}
      }
    },
    {
      "data": {"name": "curvas"},
      "transform": [{"filter": "datum.k == 0"}],
      "mark": {"type": "line", "strokeWidth": 2.4, "color": "#000"},
      "encoding": {
        "x": {"field": "x", "type": "quantitative"},
        "y": {"field": "u", "type": "quantitative"}
      }
    },
    {
      "data": {"name": "curvas"},
      "transform": [{"filter": "datum.k == 35"}],
      "mark": {"type": "line", "interpolate": "monotone", "strokeWidth": 3.5, "color": "#585858"},
      "encoding": {
        "x": {"field": "x", "type": "quantitative"},
        "y": {"field": "u", "type": "quantitative"}
      }
    },
    {
      "data": {"name": "flechasGruesas"},
      "mark": {"type": "rule", "strokeWidth": 2.4, "color": "#000"},
      "encoding": {
        "x": {"field": "x", "type": "quantitative"},
        "y": {"field": "y", "type": "quantitative"},
        "y2": {"field": "y2"}
      }
    },
    {
      "data": {"name": "puntaArriba"},
      "mark": {"type": "point", "shape": "M0,0L0.5,1.4L-0.5,1.4Z", "size": 196, "filled": true, "color": "#000", "opacity": 1},
      "encoding": {
        "x": {"field": "x", "type": "quantitative"},
        "y": {"field": "y", "type": "quantitative"}
      }
    },
    {
      "data": {"name": "puntaAbajo"},
      "mark": {"type": "point", "shape": "M0,0L0.5,-1.4L-0.5,-1.4Z", "size": 196, "filled": true, "color": "#000", "opacity": 1},
      "encoding": {
        "x": {"field": "x", "type": "quantitative"},
        "y": {"field": "y", "type": "quantitative"}
      }
    },
    {
      "data": {"name": "flechaT0"},
      "mark": {"type": "rule", "strokeWidth": 1.3, "color": "#000"},
      "encoding": {
        "x": {"field": "x", "type": "quantitative"},
        "y": {"field": "y", "type": "quantitative"},
        "y2": {"field": "y2"}
      }
    },
    {
      "data": {"name": "puntaT0"},
      "mark": {"type": "point", "shape": "M0,0L0.5,1.4L-0.5,1.4Z", "size": 100, "filled": true, "color": "#000", "opacity": 1},
      "encoding": {
        "x": {"field": "x", "type": "quantitative"},
        "y": {"field": "y", "type": "quantitative"}
      }
    },
    {
      "data": {"name": "flechaT100"},
      "mark": {"type": "rule", "strokeWidth": 1.1, "color": "#000"},
      "encoding": {
        "x": {"field": "x", "type": "quantitative"},
        "x2": {"field": "x2"},
        "y": {"field": "y", "type": "quantitative"}
      }
    },
    {
      "data": {"name": "puntaT100"},
      "mark": {"type": "point", "shape": "M0,0L-1.4,0.45L-1.4,-0.45Z", "size": 90, "filled": true, "color": "#000", "opacity": 1},
      "encoding": {
        "x": {"field": "x", "type": "quantitative"},
        "y": {"field": "y", "type": "quantitative"}
      }
    },
    {
      "data": {"name": "etiquetas"},
      "mark": {"type": "text", "align": "left", "baseline": "middle", "fontSize": 12.5, "color": "#111"},
      "encoding": {
        "x": {"field": "x", "type": "quantitative"},
        "y": {"field": "y", "type": "quantitative"},
        "text": {"field": "texto"}
      }
    }
  ]
}
